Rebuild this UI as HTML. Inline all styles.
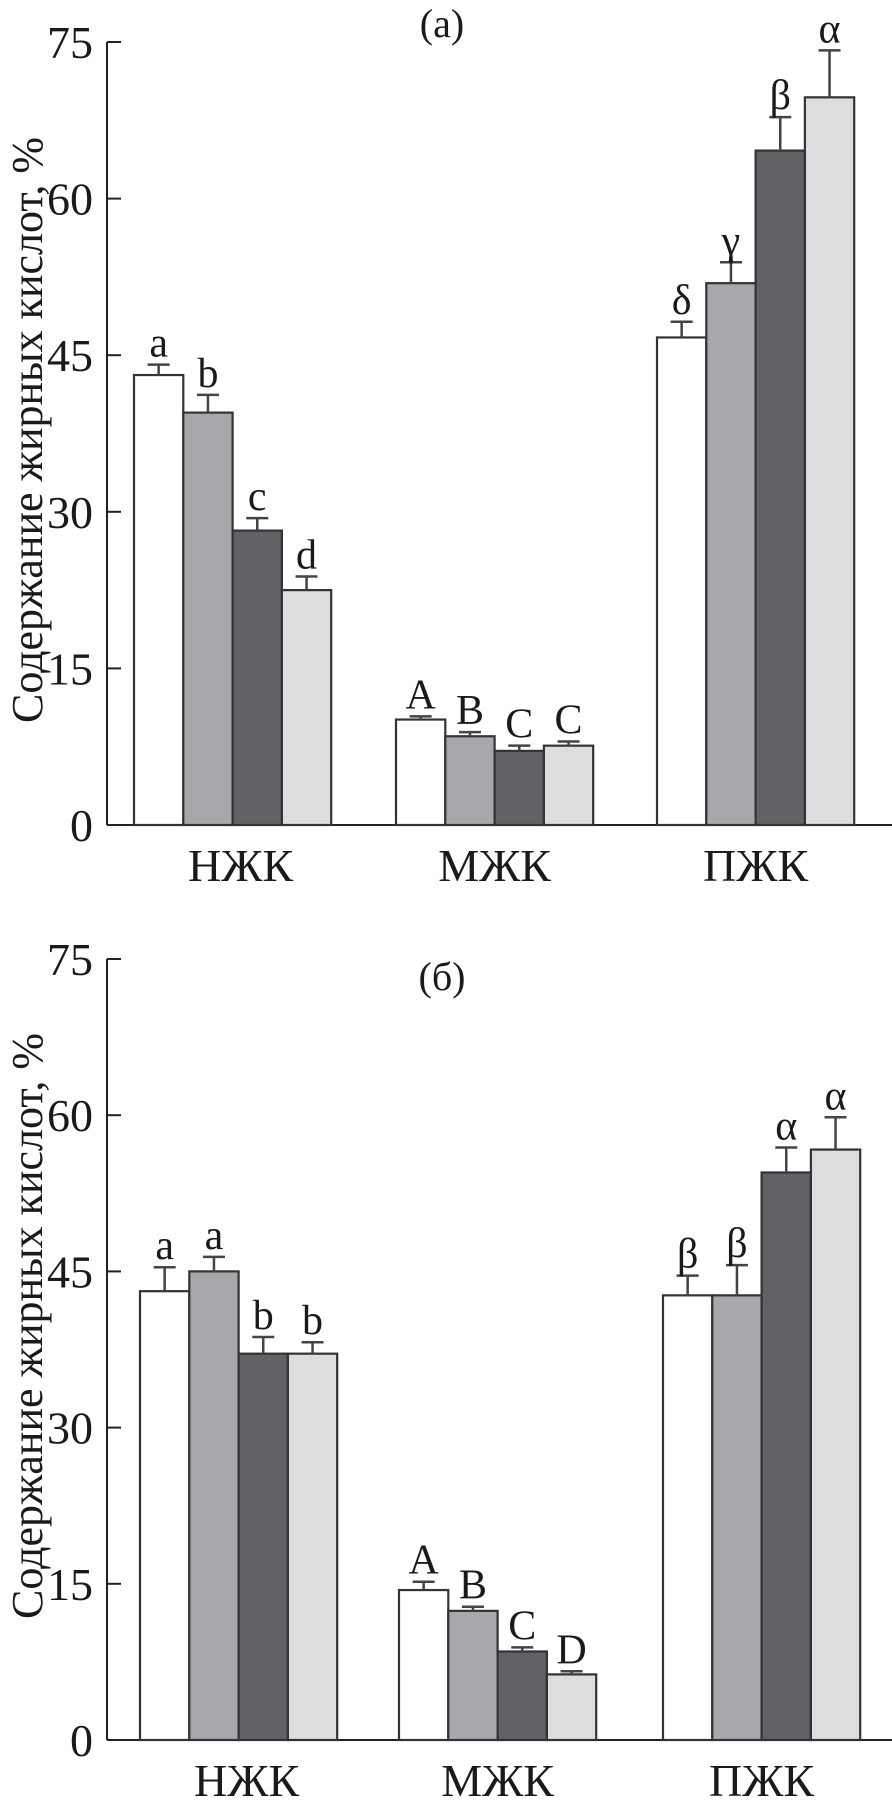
<!DOCTYPE html>
<html><head><meta charset="utf-8">
<style>
html,body{margin:0;padding:0;background:#fff;}
svg{display:block;}
text{font-family:"Liberation Serif","DejaVu Serif",serif;fill:#1a1a1a;}
</style></head>
<body>
<svg id="fig" width="892" height="1800" viewBox="0 0 892 1800" xmlns="http://www.w3.org/2000/svg"></svg>
<script>
const categories = ["НЖК","МЖК","ПЖК"];
const ticks = [0,15,30,45,60,75];
const topValues = [[43.1,39.5,28.2,22.5],[10.1,8.5,7.1,7.6],[46.7,51.9,64.6,69.7]];
const topErrors = [[1.0,1.7,1.2,1.3],[0.3,0.4,0.5,0.4],[1.5,2.0,3.2,4.5]];
const topLetters = [["a","b","c","d"],["A","B","C","C"],["δ","γ","β","α"]];
const botValues = [[43.1,45.0,37.1,37.1],[14.4,12.4,8.5,6.3],[42.7,42.7,54.5,56.7]];
const botErrors = [[2.3,1.4,1.6,1.1],[0.8,0.4,0.4,0.3],[1.9,2.9,2.4,3.1]];
const botLetters = [["a","a","b","b"],["A","B","C","D"],["β","β","α","α"]];
const fills = ["#ffffff","#a7a8ab","#616265","#dcdddf"];
const NS="http://www.w3.org/2000/svg";
const svg=document.getElementById('fig');
function mk(tag,attrs,parent){const e=document.createElementNS(NS,tag);for(const k in attrs)e.setAttribute(k,attrs[k]);(parent||svg).appendChild(e);return e;}
function panel(id,title,titleY,titleCY,y0,y75,groupStarts,values,errors,letters){
  const g=mk('g',{});
  
  
  const ax=107;
  const y=v=>y0+(y75-y0)*v/75;
  const bw=49.3;
  const yl=mk('line',{x1:ax,y1:y75,x2:ax,y2:y0,stroke:'#222','stroke-width':2},g);
  
  
  const xl=mk('line',{x1:ax,y1:y0,x2:892,y2:y0,stroke:'#222','stroke-width':2},g);
  
  
  ticks.forEach(t=>{
    const tl=mk('line',{x1:ax,y1:y(t),x2:ax+14,y2:y(t),stroke:'#222','stroke-width':2},g);
    
    
    const tx=mk('text',{x:93,y:y(t)+16,'text-anchor':'end','font-size':46},g);
    tx.textContent=t;
    
    
  });
  const tt=mk('text',{x:0,y:0,'text-anchor':'middle','font-size':44,transform:`translate(42,${titleCY}) rotate(-90)`},g);
  tt.textContent='Содержание жирных кислот, %';
  
  
  const pt=mk('text',{x:442,y:titleY,'text-anchor':'middle','font-size':40},g);
  pt.textContent=title;
  
  
  categories.forEach((c,ci)=>{
    const x0=groupStarts[ci];
    values[ci].forEach((v,si)=>{
      const bx=x0+si*bw, by=y(v);
      const r=mk('rect',{x:bx,y:by,width:bw,height:y0-by,fill:fills[si],stroke:'#333','stroke-width':2.2},g);
      
      
      const cx=bx+bw/2, ey=y(v+errors[ci][si]);
      const el=mk('path',{d:`M${cx},${by}V${ey}M${cx-11},${ey}H${cx+11}`,stroke:'#444','stroke-width':2.5,fill:'none'},g);
      
      
      const lt=mk('text',{x:cx,y:ey-8,'text-anchor':'middle','font-size':42},g);
      lt.textContent=letters[ci][si];
      
      
    });
    const cl=mk('text',{x:x0+2*bw+(ci===0?8:0),y:y0+56,'text-anchor':'middle','font-size':46},g);
    cl.textContent=c;
    
    
  });
}
panel('chart-a','(а)',37,430,825,42,[134,396,657],topValues,topErrors,topLetters);
panel('chart-b','(б)',990,1326,1740,959,[140,399,663],botValues,botErrors,botLetters);
</script>
</body></html>
